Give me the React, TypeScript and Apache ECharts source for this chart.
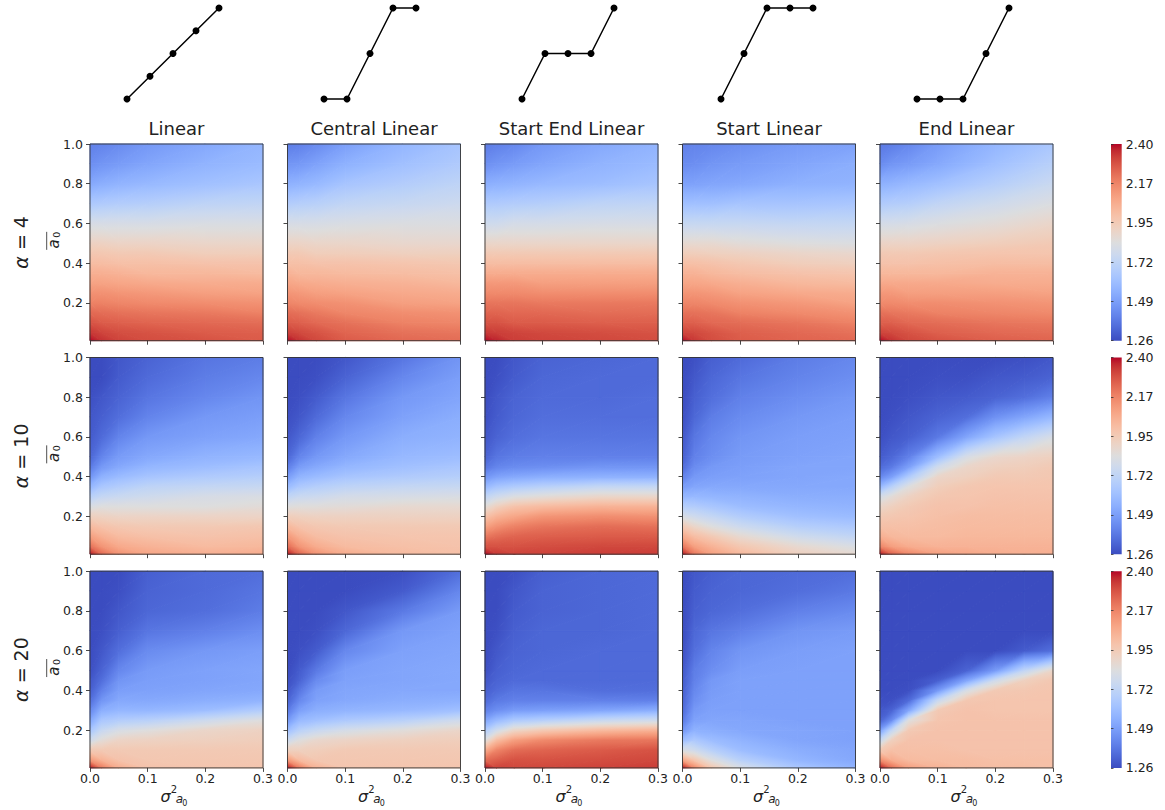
import React, { useEffect, useRef } from "react";
import * as echarts from "echarts";

// ---------- data ----------
const schemes = ["Linear", "Central Linear", "Start End Linear", "Start Linear", "End Linear"];
const alphaValues = [4, 10, 20];

// schedule shapes shown above each column
const scheduleSteps = [0, 1, 2, 3, 4];
const linearSchedule = [0, 0.25, 0.5, 0.75, 1];
const centralSchedule = [0, 0, 0.5, 1, 1];
const startEndSchedule = [0, 0.5, 0.5, 0.5, 1];
const startSchedule = [0, 0.5, 1, 1, 1];
const endSchedule = [0, 0, 0, 0.5, 1];

// grid nodes of the fields: columns follow a sigma list, rows follow meanLevels
const sigmaLevels = [0, 0.02, 0.05, 0.1, 0.2, 0.3];
const sigmaLevelsFine = [0, 0.02, 0.05, 0.1, 0.15, 0.2, 0.25, 0.3];
const meanLevels = [0.01, 0.05, 0.1, 0.15, 0.2, 0.25, 0.3, 0.35, 0.4, 0.45, 0.5, 0.6, 0.7, 0.8, 0.9, 1.0];
const sigmaTicks = [0, 0.1, 0.2, 0.3];
const meanTicks = [0.2, 0.4, 0.6, 0.8, 1.0];
const colorbarTicks = [1.2625, 1.49, 1.7175, 1.945, 2.1725, 2.4];

// alpha = 4
const linearA4 = [
  [2.40, 2.35, 2.32, 2.30, 2.29, 2.27],
  [2.34, 2.32, 2.30, 2.29, 2.27, 2.26],
  [2.29, 2.27, 2.26, 2.25, 2.24, 2.23],
  [2.24, 2.23, 2.22, 2.21, 2.20, 2.18],
  [2.18, 2.18, 2.17, 2.16, 2.15, 2.14],
  [2.14, 2.14, 2.13, 2.12, 2.10, 2.09],
  [2.09, 2.09, 2.08, 2.07, 2.06, 2.06],
  [2.05, 2.05, 2.04, 2.02, 2.02, 2.01],
  [2.00, 2.00, 1.99, 1.99, 1.98, 1.98],
  [1.96, 1.96, 1.95, 1.95, 1.93, 1.93],
  [1.91, 1.91, 1.90, 1.90, 1.89, 1.89],
  [1.80, 1.80, 1.80, 1.80, 1.81, 1.81],
  [1.65, 1.66, 1.67, 1.68, 1.71, 1.72],
  [1.52, 1.54, 1.56, 1.58, 1.61, 1.64],
  [1.44, 1.46, 1.48, 1.51, 1.56, 1.59],
  [1.40, 1.41, 1.43, 1.47, 1.52, 1.57],
];
const centralA4 = [
  [2.40, 2.35, 2.31, 2.27, 2.24, 2.23],
  [2.33, 2.31, 2.29, 2.25, 2.22, 2.21],
  [2.27, 2.26, 2.24, 2.22, 2.18, 2.17],
  [2.23, 2.22, 2.20, 2.17, 2.15, 2.14],
  [2.17, 2.16, 2.15, 2.14, 2.10, 2.09],
  [2.13, 2.12, 2.10, 2.09, 2.07, 2.06],
  [2.08, 2.07, 2.06, 2.05, 2.04, 2.02],
  [2.04, 2.02, 2.02, 2.01, 2.00, 1.99],
  [1.99, 1.99, 1.98, 1.98, 1.97, 1.96],
  [1.95, 1.95, 1.93, 1.93, 1.92, 1.92],
  [1.90, 1.90, 1.89, 1.89, 1.88, 1.88],
  [1.80, 1.80, 1.80, 1.81, 1.82, 1.82],
  [1.67, 1.68, 1.69, 1.72, 1.74, 1.76],
  [1.55, 1.56, 1.58, 1.63, 1.67, 1.71],
  [1.46, 1.47, 1.50, 1.55, 1.61, 1.66],
  [1.39, 1.40, 1.43, 1.49, 1.57, 1.63],
];
const startEndA4 = [
  [2.40, 2.37, 2.33, 2.32, 2.31, 2.30],
  [2.34, 2.33, 2.32, 2.31, 2.30, 2.29],
  [2.29, 2.29, 2.27, 2.27, 2.26, 2.26],
  [2.25, 2.25, 2.24, 2.24, 2.23, 2.23],
  [2.21, 2.21, 2.21, 2.20, 2.20, 2.20],
  [2.16, 2.16, 2.16, 2.15, 2.15, 2.15],
  [2.12, 2.12, 2.12, 2.10, 2.10, 2.10],
  [2.06, 2.06, 2.06, 2.06, 2.06, 2.06],
  [2.00, 2.00, 2.00, 2.00, 2.00, 2.00],
  [1.95, 1.95, 1.95, 1.95, 1.95, 1.95],
  [1.89, 1.89, 1.89, 1.89, 1.89, 1.89],
  [1.77, 1.77, 1.79, 1.79, 1.80, 1.80],
  [1.66, 1.66, 1.67, 1.68, 1.71, 1.72],
  [1.54, 1.55, 1.56, 1.58, 1.60, 1.63],
  [1.44, 1.46, 1.48, 1.51, 1.56, 1.59],
  [1.39, 1.40, 1.42, 1.47, 1.52, 1.56],
];
const startA4 = [
  [2.40, 2.34, 2.30, 2.27, 2.25, 2.24],
  [2.32, 2.31, 2.29, 2.26, 2.24, 2.22],
  [2.26, 2.26, 2.24, 2.23, 2.21, 2.18],
  [2.22, 2.22, 2.21, 2.18, 2.16, 2.14],
  [2.17, 2.17, 2.16, 2.14, 2.12, 2.09],
  [2.13, 2.13, 2.12, 2.09, 2.07, 2.06],
  [2.08, 2.08, 2.07, 2.05, 2.02, 2.01],
  [2.04, 2.04, 2.02, 2.00, 1.98, 1.97],
  [1.99, 1.99, 1.98, 1.96, 1.93, 1.92],
  [1.93, 1.93, 1.92, 1.91, 1.89, 1.88],
  [1.87, 1.87, 1.87, 1.85, 1.83, 1.82],
  [1.74, 1.74, 1.74, 1.74, 1.73, 1.73],
  [1.61, 1.61, 1.61, 1.63, 1.63, 1.64],
  [1.50, 1.50, 1.51, 1.52, 1.55, 1.56],
  [1.43, 1.44, 1.46, 1.48, 1.51, 1.54],
  [1.40, 1.41, 1.42, 1.44, 1.48, 1.50],
];
const endA4 = [
  [2.40, 2.35, 2.31, 2.29, 2.26, 2.25],
  [2.32, 2.31, 2.29, 2.26, 2.24, 2.23],
  [2.26, 2.26, 2.24, 2.23, 2.21, 2.20],
  [2.22, 2.21, 2.20, 2.18, 2.17, 2.16],
  [2.16, 2.16, 2.15, 2.15, 2.14, 2.13],
  [2.12, 2.12, 2.10, 2.10, 2.10, 2.09],
  [2.07, 2.07, 2.07, 2.07, 2.06, 2.06],
  [2.02, 2.02, 2.02, 2.02, 2.04, 2.04],
  [1.98, 1.98, 1.98, 1.99, 2.00, 2.00],
  [1.95, 1.95, 1.95, 1.96, 1.97, 1.97],
  [1.90, 1.90, 1.90, 1.91, 1.93, 1.95],
  [1.79, 1.79, 1.80, 1.82, 1.85, 1.89],
  [1.66, 1.67, 1.68, 1.72, 1.77, 1.82],
  [1.55, 1.56, 1.58, 1.61, 1.68, 1.75],
  [1.43, 1.46, 1.48, 1.52, 1.61, 1.69],
  [1.38, 1.39, 1.42, 1.48, 1.57, 1.64],
];

// alpha = 10
const linearA10 = [
  [2.40, 2.24, 2.14, 2.08, 2.05, 2.06],
  [2.22, 2.13, 2.07, 2.04, 2.01, 2.02],
  [2.10, 2.05, 2.01, 1.99, 1.98, 1.99],
  [2.01, 1.98, 1.96, 1.95, 1.95, 1.96],
  [1.92, 1.91, 1.90, 1.90, 1.90, 1.90],
  [1.81, 1.83, 1.83, 1.83, 1.83, 1.85],
  [1.69, 1.73, 1.75, 1.77, 1.80, 1.81],
  [1.57, 1.64, 1.67, 1.71, 1.73, 1.74],
  [1.46, 1.55, 1.59, 1.63, 1.66, 1.68],
  [1.38, 1.47, 1.52, 1.57, 1.60, 1.63],
  [1.33, 1.41, 1.48, 1.52, 1.56, 1.58],
  [1.30, 1.34, 1.41, 1.47, 1.50, 1.52],
  [1.29, 1.31, 1.35, 1.41, 1.47, 1.49],
  [1.27, 1.29, 1.32, 1.37, 1.42, 1.46],
  [1.26, 1.26, 1.30, 1.34, 1.39, 1.42],
  [1.26, 1.26, 1.29, 1.32, 1.37, 1.39],
];
const centralA10 = [
  [2.40, 2.25, 2.14, 2.06, 2.01, 1.99],
  [2.23, 2.13, 2.06, 2.01, 1.99, 1.98],
  [2.12, 2.05, 2.00, 1.98, 1.97, 1.97],
  [2.02, 1.98, 1.96, 1.95, 1.95, 1.95],
  [1.93, 1.92, 1.91, 1.91, 1.91, 1.91],
  [1.83, 1.84, 1.84, 1.85, 1.87, 1.87],
  [1.72, 1.75, 1.76, 1.79, 1.80, 1.81],
  [1.59, 1.65, 1.68, 1.71, 1.73, 1.74],
  [1.48, 1.56, 1.59, 1.63, 1.66, 1.68],
  [1.39, 1.48, 1.52, 1.57, 1.61, 1.64],
  [1.33, 1.41, 1.47, 1.52, 1.58, 1.60],
  [1.29, 1.33, 1.40, 1.47, 1.54, 1.56],
  [1.27, 1.29, 1.34, 1.42, 1.50, 1.54],
  [1.26, 1.27, 1.30, 1.37, 1.47, 1.51],
  [1.26, 1.26, 1.27, 1.32, 1.42, 1.49],
  [1.26, 1.26, 1.26, 1.29, 1.37, 1.46],
];
const startEndA10 = [
  [2.40, 2.34, 2.32, 2.32, 2.33, 2.33],
  [2.29, 2.29, 2.29, 2.30, 2.31, 2.31],
  [2.20, 2.23, 2.25, 2.26, 2.27, 2.27],
  [2.09, 2.14, 2.18, 2.21, 2.23, 2.22],
  [1.98, 2.04, 2.08, 2.13, 2.15, 2.14],
  [1.85, 1.92, 1.98, 2.01, 2.04, 2.04],
  [1.72, 1.77, 1.82, 1.85, 1.89, 1.89],
  [1.58, 1.63, 1.66, 1.69, 1.73, 1.73],
  [1.46, 1.50, 1.52, 1.54, 1.55, 1.55],
  [1.37, 1.41, 1.43, 1.44, 1.46, 1.46],
  [1.32, 1.37, 1.39, 1.40, 1.40, 1.40],
  [1.29, 1.32, 1.35, 1.37, 1.37, 1.37],
  [1.27, 1.30, 1.33, 1.35, 1.35, 1.35],
  [1.26, 1.29, 1.32, 1.34, 1.34, 1.35],
  [1.26, 1.27, 1.30, 1.33, 1.34, 1.34],
  [1.26, 1.26, 1.29, 1.32, 1.33, 1.34],
];
const startA10 = [
  [2.40, 2.21, 2.10, 2.02, 1.92, 1.87],
  [2.21, 2.10, 2.04, 1.96, 1.87, 1.81],
  [2.07, 2.00, 1.95, 1.87, 1.77, 1.72],
  [1.95, 1.89, 1.83, 1.76, 1.68, 1.65],
  [1.81, 1.77, 1.73, 1.67, 1.61, 1.59],
  [1.68, 1.67, 1.64, 1.60, 1.57, 1.56],
  [1.57, 1.58, 1.57, 1.56, 1.54, 1.54],
  [1.48, 1.51, 1.52, 1.52, 1.52, 1.52],
  [1.40, 1.47, 1.49, 1.50, 1.51, 1.52],
  [1.34, 1.43, 1.47, 1.49, 1.51, 1.51],
  [1.31, 1.40, 1.44, 1.48, 1.50, 1.51],
  [1.29, 1.37, 1.42, 1.46, 1.49, 1.50],
  [1.27, 1.33, 1.39, 1.43, 1.47, 1.49],
  [1.26, 1.31, 1.35, 1.40, 1.44, 1.47],
  [1.26, 1.29, 1.33, 1.37, 1.41, 1.44],
  [1.26, 1.27, 1.31, 1.34, 1.39, 1.42],
];
// columns follow sigmaLevelsFine
const endA10 = [
  [2.40, 2.26, 2.17, 2.10, 2.08, 2.06, 2.05, 2.05],
  [2.17, 2.10, 2.06, 2.04, 2.04, 2.04, 2.04, 2.04],
  [2.05, 2.02, 2.01, 2.01, 2.02, 2.02, 2.02, 2.02],
  [1.99, 1.99, 1.99, 2.00, 2.01, 2.01, 2.01, 2.01],
  [1.95, 1.96, 1.97, 1.99, 2.00, 2.00, 2.00, 2.00],
  [1.89, 1.92, 1.95, 1.98, 1.98, 1.99, 1.99, 1.99],
  [1.79, 1.85, 1.91, 1.96, 1.97, 1.98, 1.98, 1.98],
  [1.58, 1.69, 1.83, 1.93, 1.96, 1.97, 1.97, 1.97],
  [1.42, 1.49, 1.66, 1.89, 1.92, 1.95, 1.95, 1.96],
  [1.34, 1.38, 1.49, 1.77, 1.89, 1.92, 1.93, 1.95],
  [1.30, 1.33, 1.40, 1.60, 1.80, 1.88, 1.90, 1.92],
  [1.27, 1.29, 1.31, 1.38, 1.51, 1.63, 1.72, 1.80],
  [1.26, 1.27, 1.29, 1.32, 1.35, 1.45, 1.51, 1.58],
  [1.26, 1.26, 1.27, 1.29, 1.30, 1.32, 1.35, 1.40],
  [1.26, 1.26, 1.26, 1.27, 1.27, 1.29, 1.30, 1.32],
  [1.26, 1.26, 1.26, 1.26, 1.26, 1.26, 1.27, 1.29],
];

// alpha = 20
const linearA20 = [
  [2.40, 2.20, 2.06, 1.98, 1.97, 1.97],
  [2.12, 2.04, 1.98, 1.96, 1.96, 1.96],
  [1.95, 1.95, 1.95, 1.95, 1.95, 1.95],
  [1.77, 1.85, 1.90, 1.91, 1.92, 1.93],
  [1.63, 1.74, 1.80, 1.83, 1.89, 1.91],
  [1.51, 1.64, 1.67, 1.69, 1.76, 1.83],
  [1.42, 1.54, 1.57, 1.57, 1.60, 1.67],
  [1.35, 1.46, 1.52, 1.52, 1.54, 1.56],
  [1.31, 1.40, 1.49, 1.50, 1.51, 1.52],
  [1.29, 1.35, 1.46, 1.49, 1.50, 1.51],
  [1.27, 1.32, 1.42, 1.48, 1.50, 1.51],
  [1.26, 1.29, 1.35, 1.43, 1.47, 1.49],
  [1.26, 1.27, 1.31, 1.37, 1.40, 1.44],
  [1.26, 1.26, 1.29, 1.33, 1.35, 1.39],
  [1.26, 1.26, 1.27, 1.32, 1.34, 1.37],
  [1.26, 1.26, 1.26, 1.31, 1.34, 1.35],
];
const centralA20 = [
  [2.40, 2.20, 2.04, 1.97, 1.97, 1.97],
  [2.12, 2.01, 1.96, 1.96, 1.96, 1.96],
  [1.92, 1.92, 1.93, 1.95, 1.95, 1.95],
  [1.76, 1.83, 1.88, 1.90, 1.92, 1.93],
  [1.60, 1.69, 1.74, 1.79, 1.84, 1.89],
  [1.47, 1.58, 1.61, 1.65, 1.69, 1.77],
  [1.38, 1.49, 1.54, 1.56, 1.58, 1.61],
  [1.32, 1.42, 1.50, 1.52, 1.54, 1.55],
  [1.29, 1.37, 1.48, 1.51, 1.52, 1.52],
  [1.27, 1.32, 1.43, 1.50, 1.51, 1.52],
  [1.26, 1.30, 1.38, 1.49, 1.51, 1.52],
  [1.26, 1.27, 1.30, 1.42, 1.50, 1.51],
  [1.26, 1.26, 1.27, 1.33, 1.47, 1.50],
  [1.26, 1.26, 1.26, 1.29, 1.38, 1.48],
  [1.26, 1.26, 1.26, 1.26, 1.30, 1.42],
  [1.26, 1.26, 1.26, 1.26, 1.27, 1.35],
];
const startEndA20 = [
  [2.40, 2.32, 2.31, 2.31, 2.32, 2.33],
  [2.23, 2.26, 2.29, 2.29, 2.30, 2.31],
  [2.06, 2.17, 2.23, 2.25, 2.27, 2.29],
  [1.83, 2.00, 2.10, 2.16, 2.20, 2.21],
  [1.66, 1.77, 1.89, 1.95, 2.01, 2.04],
  [1.51, 1.58, 1.65, 1.68, 1.74, 1.77],
  [1.40, 1.44, 1.48, 1.49, 1.51, 1.54],
  [1.34, 1.38, 1.40, 1.40, 1.40, 1.40],
  [1.31, 1.34, 1.37, 1.37, 1.35, 1.35],
  [1.29, 1.32, 1.34, 1.34, 1.34, 1.34],
  [1.27, 1.31, 1.33, 1.34, 1.34, 1.34],
  [1.26, 1.29, 1.32, 1.33, 1.34, 1.34],
  [1.26, 1.27, 1.31, 1.33, 1.33, 1.34],
  [1.26, 1.26, 1.30, 1.32, 1.33, 1.34],
  [1.26, 1.26, 1.29, 1.32, 1.33, 1.34],
  [1.26, 1.26, 1.27, 1.31, 1.33, 1.34],
];
const startA20 = [
  [2.40, 2.17, 1.97, 1.81, 1.64, 1.56],
  [2.08, 1.97, 1.83, 1.69, 1.57, 1.52],
  [1.81, 1.77, 1.69, 1.60, 1.54, 1.51],
  [1.60, 1.65, 1.60, 1.56, 1.51, 1.50],
  [1.46, 1.55, 1.54, 1.52, 1.51, 1.50],
  [1.38, 1.50, 1.51, 1.51, 1.50, 1.50],
  [1.34, 1.47, 1.50, 1.50, 1.50, 1.50],
  [1.32, 1.44, 1.49, 1.50, 1.50, 1.50],
  [1.31, 1.42, 1.48, 1.50, 1.50, 1.50],
  [1.30, 1.40, 1.47, 1.50, 1.50, 1.50],
  [1.29, 1.39, 1.44, 1.49, 1.50, 1.50],
  [1.27, 1.35, 1.41, 1.46, 1.49, 1.50],
  [1.26, 1.33, 1.37, 1.40, 1.46, 1.48],
  [1.26, 1.31, 1.33, 1.35, 1.40, 1.43],
  [1.26, 1.30, 1.32, 1.33, 1.35, 1.38],
  [1.26, 1.29, 1.31, 1.33, 1.34, 1.35],
];
// columns follow sigmaLevelsFine
const endA20 = [
  [2.40, 2.23, 2.10, 2.04, 2.01, 2.00, 2.00, 1.99],
  [2.15, 2.06, 2.01, 2.00, 2.00, 1.99, 1.99, 1.99],
  [1.95, 1.99, 1.99, 1.99, 1.98, 1.98, 1.98, 1.98],
  [1.74, 1.92, 1.98, 1.98, 1.98, 1.98, 1.98, 1.98],
  [1.49, 1.72, 1.95, 1.98, 1.98, 1.98, 1.98, 1.98],
  [1.32, 1.43, 1.83, 1.97, 1.98, 1.98, 1.98, 1.98],
  [1.29, 1.32, 1.51, 1.95, 1.98, 1.97, 1.97, 1.97],
  [1.27, 1.27, 1.34, 1.74, 1.96, 1.97, 1.97, 1.97],
  [1.26, 1.26, 1.27, 1.47, 1.80, 1.95, 1.96, 1.97],
  [1.26, 1.26, 1.26, 1.31, 1.51, 1.77, 1.92, 1.96],
  [1.26, 1.26, 1.26, 1.26, 1.32, 1.48, 1.72, 1.89],
  [1.26, 1.26, 1.26, 1.26, 1.26, 1.26, 1.30, 1.35],
  [1.26, 1.26, 1.26, 1.26, 1.26, 1.26, 1.26, 1.26],
  [1.26, 1.26, 1.26, 1.26, 1.26, 1.26, 1.26, 1.26],
  [1.26, 1.26, 1.26, 1.26, 1.26, 1.26, 1.26, 1.26],
  [1.26, 1.26, 1.26, 1.26, 1.26, 1.26, 1.26, 1.26],
];

const schedules = [linearSchedule, centralSchedule, startEndSchedule, startSchedule, endSchedule];
const fields = [
  [linearA4, centralA4, startEndA4, startA4, endA4],
  [linearA10, centralA10, startEndA10, startA10, endA10],
  [linearA20, centralA20, startEndA20, startA20, endA20],
];

// ---------- colour map (coolwarm) ----------
const COOLWARM = [
  [59, 76, 192], [68, 90, 204], [77, 104, 215], [87, 117, 225], [98, 130, 234], [108, 142, 241],
  [119, 154, 247], [130, 165, 251], [141, 176, 254], [152, 185, 255], [163, 194, 255], [174, 201, 253],
  [184, 208, 249], [194, 213, 244], [204, 217, 238], [213, 219, 230], [221, 221, 221], [229, 216, 209],
  [236, 211, 197], [241, 204, 184], [245, 196, 173], [247, 187, 160], [247, 177, 148], [247, 166, 135],
  [244, 154, 123], [241, 141, 111], [236, 127, 99], [229, 112, 88], [222, 96, 77], [213, 80, 66],
  [203, 62, 56], [192, 40, 47], [180, 4, 38],
];
const VMIN = colorbarTicks[0];
const VMAX = colorbarTicks[colorbarTicks.length - 1];
const norm = (v: number) => (v - VMIN) / (VMAX - VMIN);

function coolwarm(t: number): string {
  const c = Math.max(0, Math.min(1, t));
  const p = c * (COOLWARM.length - 1);
  const i = Math.min(Math.floor(p), COOLWARM.length - 2);
  const f = p - i;
  const a = COOLWARM[i];
  const b = COOLWARM[i + 1];
  const mix = (k: number) => Math.round(a[k] + (b[k] - a[k]) * f);
  return `rgb(${mix(0)},${mix(1)},${mix(2)})`;
}

// One triangle of a field, shaded with a linear gradient that follows the
// linear interpolation of its three corner values through the colour map.
function shadedTriangle(P1: number[], P2: number[], P3: number[], a: number, b: number, c: number) {
  const ta = norm(a), tb = norm(b), tc = norm(c);
  const d2x = P2[0] - P1[0], d2y = P2[1] - P1[1];
  const d3x = P3[0] - P1[0], d3y = P3[1] - P1[1];
  const det = d2x * d3y - d2y * d3x;
  const tmin = Math.min(ta, tb, tc);
  const tmax = Math.max(ta, tb, tc);
  let fill: any;
  if (tmax - tmin < 1e-5 || Math.abs(det) < 1e-9) {
    fill = coolwarm((tmin + tmax) / 2);
  } else {
    const gx = ((tb - ta) * d3y - (tc - ta) * d2y) / det;
    const gy = ((tc - ta) * d2x - (tb - ta) * d3x) / det;
    const g2 = gx * gx + gy * gy;
    const sx = P1[0] + (gx * (tmin - ta)) / g2;
    const sy = P1[1] + (gy * (tmin - ta)) / g2;
    const ex = P1[0] + (gx * (tmax - ta)) / g2;
    const ey = P1[1] + (gy * (tmax - ta)) / g2;
    const n = Math.max(1, Math.ceil((tmax - tmin) * 36));
    const stops = [];
    for (let k = 0; k <= n; k++) {
      stops.push({ offset: k / n, color: coolwarm(tmin + ((tmax - tmin) * k) / n) });
    }
    fill = new echarts.graphic.LinearGradient(sx, sy, ex, ey, stops, true);
  }
  return {
    type: "polygon",
    shape: { points: [P1, P2, P3] },
    style: { fill, stroke: fill, lineWidth: 1, lineJoin: "round" },
  };
}

function renderCell(_params: any, api: any) {
  const x0 = api.value(0), x1 = api.value(1), y0 = api.value(2), y1 = api.value(3);
  const v00 = api.value(4), v10 = api.value(5), v01 = api.value(6), v11 = api.value(7);
  const p00 = api.coord([x0, y0]);
  const p10 = api.coord([x1, y0]);
  const p01 = api.coord([x0, y1]);
  const p11 = api.coord([x1, y1]);
  const children =
    Math.abs(v00 - v11) <= Math.abs(v10 - v01)
      ? [shadedTriangle(p00, p10, p11, v00, v10, v11), shadedTriangle(p00, p11, p01, v00, v11, v01)]
      : [shadedTriangle(p00, p10, p01, v00, v10, v01), shadedTriangle(p10, p11, p01, v10, v11, v01)];
  return { type: "group", children };
}

function renderColorbar(_params: any, api: any) {
  const topLeft = api.coord([api.value(0), api.value(3)]);
  const bottomRight = api.coord([api.value(1), api.value(2)]);
  const stops = COOLWARM.map((c, i) => ({ offset: i / (COOLWARM.length - 1), color: `rgb(${c[0]},${c[1]},${c[2]})` }));
  return {
    type: "rect",
    shape: {
      x: topLeft[0],
      y: topLeft[1],
      width: bottomRight[0] - topLeft[0],
      height: bottomRight[1] - topLeft[1],
    },
    style: { fill: new echarts.graphic.LinearGradient(0, 1, 0, 0, stops) },
  };
}

function fieldCells(field: number[][]) {
  const sigmas = field[0].length === sigmaLevelsFine.length ? sigmaLevelsFine : sigmaLevels;
  const cells: number[][] = [];
  for (let j = 0; j < meanLevels.length - 1; j++) {
    for (let i = 0; i < sigmas.length - 1; i++) {
      cells.push([
        sigmas[i], sigmas[i + 1], meanLevels[j], meanLevels[j + 1],
        field[j][i], field[j][i + 1], field[j + 1][i], field[j + 1][i + 1],
      ]);
    }
  }
  return cells;
}

// ---------- layout ----------
const FONT = "DejaVu Sans";
const TEXT = "#222";
const PANEL_LEFT = [90, 287.5, 485, 682.5, 880];
const PANEL_TOP = [144, 357.5, 571.2];
const PANEL_W = 173;
const PANEL_H = 196.7;
const SCHEDULE_LEFT = [127, 324, 522, 721, 917];
const COLORBAR_LEFT = 1111;
const COLORBAR_W = 10.7;

function buildOption() {
  const grid: any[] = [];
  const xAxis: any[] = [];
  const yAxis: any[] = [];
  const series: any[] = [];
  const graphic: any[] = [];
  const tickStyle = { show: true, length: 4, lineStyle: { color: "#333", width: 0.9 } };

  // field panels
  fields.forEach((row, r) => {
    row.forEach((field, c) => {
      const gi = grid.length;
      grid.push({
        left: PANEL_LEFT[c], top: PANEL_TOP[r], width: PANEL_W, height: PANEL_H,
        show: true, borderColor: "#333", borderWidth: 0.9, backgroundColor: "transparent", z: 3,
      });
      xAxis.push({
        gridIndex: gi, type: "value", min: 0, max: 0.3, interval: 0.1, z: 4,
        axisLine: { show: false }, splitLine: { show: false },
        axisTick: { ...tickStyle, customValues: sigmaTicks },
        axisLabel: {
          show: r === fields.length - 1, customValues: sigmaTicks, fontSize: 12.5, color: TEXT, fontFamily: FONT,
          margin: 4, formatter: (v: number) => v.toFixed(1),
        },
      });
      yAxis.push({
        gridIndex: gi, type: "value", min: meanLevels[0], max: 1, z: 4,
        axisLine: { show: false }, splitLine: { show: false },
        axisTick: { ...tickStyle, customValues: meanTicks },
        axisLabel: {
          show: c === 0, customValues: meanTicks, fontSize: 12.5, color: TEXT, fontFamily: FONT,
          margin: 7, formatter: (v: number) => v.toFixed(1),
        },
      });
      series.push({
        type: "custom", xAxisIndex: gi, yAxisIndex: gi, silent: true, z: 2,
        encode: { x: [0, 1], y: [2, 3] },
        renderItem: renderCell, data: fieldCells(field),
      });
    });
  });

  // colour bars
  alphaValues.forEach((_a, r) => {
    const gi = grid.length;
    grid.push({ left: COLORBAR_LEFT, top: PANEL_TOP[r], width: COLORBAR_W, height: PANEL_H, show: false });
    xAxis.push({ gridIndex: gi, type: "value", min: 0, max: 1, show: false });
    yAxis.push({
      gridIndex: gi, type: "value", position: "right", min: VMIN, max: VMAX, z: 4,
      axisLine: { show: false }, splitLine: { show: false },
      axisTick: { show: true, length: 2.5, customValues: colorbarTicks, lineStyle: { color: "#333", width: 0.8 } },
      axisLabel: {
        show: true, customValues: colorbarTicks, fontSize: 12.5, color: TEXT, fontFamily: FONT, margin: 4,
        formatter: (v: number) => (Math.round(v * 100 + 1e-6) / 100).toFixed(2),
      },
    });
    series.push({
      type: "custom", xAxisIndex: gi, yAxisIndex: gi, silent: true,
      encode: { x: [0, 1], y: [2, 3] },
      renderItem: renderColorbar, data: [[0, 1, VMIN, VMAX]],
    });
  });

  // schedule shapes
  schedules.forEach((sched, c) => {
    const gi = grid.length;
    grid.push({ left: SCHEDULE_LEFT[c], top: 8, width: 92, height: 91, show: false });
    xAxis.push({ gridIndex: gi, type: "value", min: 0, max: 4, show: false });
    yAxis.push({ gridIndex: gi, type: "value", min: 0, max: 1, show: false });
    series.push({
      type: "line", xAxisIndex: gi, yAxisIndex: gi, silent: true, clip: false,
      data: scheduleSteps.map((s, i) => [s, sched[i]]),
      symbol: "circle", symbolSize: 7, showSymbol: true,
      lineStyle: { color: "#000", width: 1.5 }, itemStyle: { color: "#000" },
    });
  });

  // column titles
  schemes.forEach((name, c) => {
    graphic.push({
      type: "text", x: PANEL_LEFT[c] + PANEL_W / 2, y: 128,
      style: {
        text: name, fontSize: 18, fontFamily: FONT, fill: TEXT,
        align: "center", verticalAlign: "middle", textAlign: "center", textVerticalAlign: "middle",
      },
    });
  });

  // row labels and y-axis names
  alphaValues.forEach((a, r) => {
    const cy = PANEL_TOP[r] + PANEL_H / 2;
    graphic.push({
      type: "group", x: 21, y: cy, rotation: Math.PI / 2,
      children: [
        {
          type: "text", x: 0, y: 0,
          style: {
            text: `{i|α}{n| = ${a}}`, align: "center", verticalAlign: "middle",
            textAlign: "center", textVerticalAlign: "middle", fill: TEXT,
            rich: {
              i: { fontSize: 19, fontFamily: FONT, fontStyle: "italic", fill: TEXT },
              n: { fontSize: 19, fontFamily: FONT, fill: TEXT },
            },
          },
        },
      ],
    });
    graphic.push({
      type: "group", x: 53, y: cy, rotation: Math.PI / 2,
      children: [
        {
          type: "text", x: -1.5, y: 0.5,
          style: {
            text: "a", fontSize: 15, fontStyle: "italic", fontFamily: FONT, fill: TEXT,
            align: "center", verticalAlign: "middle", textAlign: "center", textVerticalAlign: "middle",
          },
        },
        {
          type: "text", x: 7.5, y: 3,
          style: {
            text: "0", fontSize: 9.5, fontFamily: FONT, fill: TEXT,
            align: "center", verticalAlign: "middle", textAlign: "center", textVerticalAlign: "middle",
          },
        },
        { type: "line", shape: { x1: -7.5, y1: -6.3, x2: 10.5, y2: -6.3 }, style: { stroke: TEXT, lineWidth: 0.8 } },
      ],
    });
  });

  // x-axis names under the bottom row
  schemes.forEach((_s, c) => {
    const cx = PANEL_LEFT[c] + PANEL_W / 2;
    const piece = (text: string, x: number, y: number, size: number, italic: boolean) => ({
      type: "text", x, y,
      style: {
        text, fontSize: size, fontFamily: FONT, fontStyle: italic ? "italic" : "normal", fill: TEXT,
        align: "center", verticalAlign: "middle", textAlign: "center", textVerticalAlign: "middle",
      },
    });
    graphic.push({
      type: "group", x: cx, y: 795,
      children: [
        piece("σ", -11, 1.5, 16, true),
        piece("2", -2.6, -6, 10, false),
        piece("a", 3, 4, 12, true),
        piece("0", 8.3, 8.5, 8, false),
      ],
    });
  });

  return {
    animation: false,
    backgroundColor: "#fff",
    textStyle: { fontFamily: FONT },
    grid, xAxis, yAxis, series, graphic,
  };
}

export default function App() {
  const ref = useRef<HTMLDivElement>(null);
  useEffect(() => {
    if (!ref.current) return;
    const chart = echarts.init(ref.current, null, { renderer: "svg" });
    chart.setOption(buildOption() as any);
    return () => chart.dispose();
  }, []);
  return (
    <div
      ref={ref}
      style={{ position: "absolute", left: 0, top: 0, width: 1165, height: 810, background: "#fff" }}
    />
  );
}
